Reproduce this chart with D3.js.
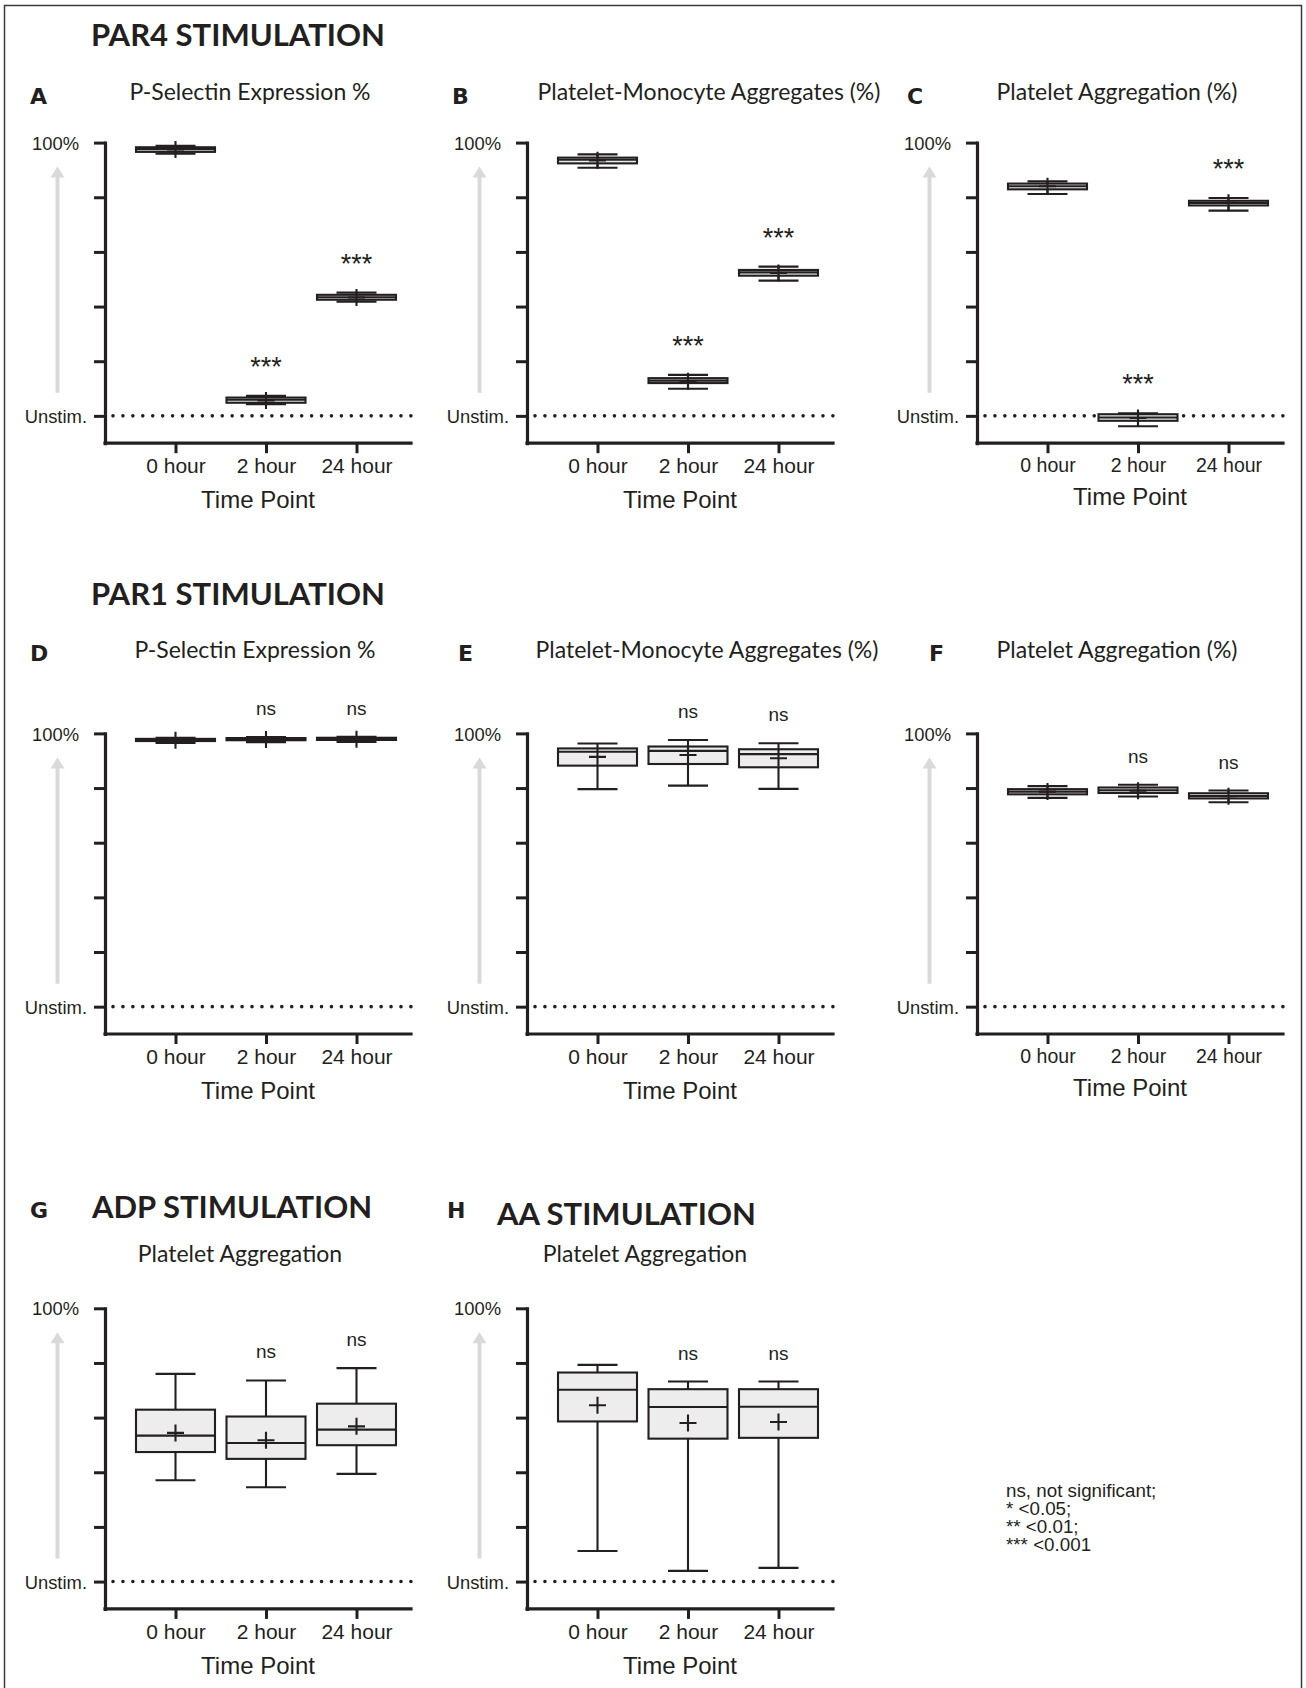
<!DOCTYPE html>
<html>
<head>
<meta charset="utf-8">
<script src="https://cdn.jsdelivr.net/npm/d3@7"></script>
<style>
  body { margin: 0; background: #fff; }
  svg text { fill: #231f20; }
</style>
</head>
<body>
<div id="chart"></div>
<script>
const timePoints = ["0 hour", "2 hour", "24 hour"];

// box stats for each time point: [min, q1, median, q3, max, mean]
// (0 = unstimulated level, 100 = 100%)
const par4PSelectin = [[95.9, 96.6, 97.6, 98.3, 98.8, 97.5], [4.3, 4.8, 5.9, 6.7, 7.3, 5.6], [41.8, 42.5, 43.4, 44.3, 45.1, 43.3]];
const par4Monocyte  = [[90.8, 92.4, 93.7, 94.5, 95.7, 93.5], [9.9, 12.0, 12.9, 13.8, 15.0, 12.7], [49.5, 51.3, 52.5, 53.4, 54.6, 52.3]];
const par4Aggreg    = [[81.2, 82.9, 84.0, 85.0, 85.8, 84.0], [-3.8, -1.8, -0.6, 0.6, 0.9, -0.8], [75.1, 77.0, 77.9, 78.7, 79.7, 78.0]];
const par1PSelectin = [[96.5, 97.2, 97.6, 98.0, 98.4, 97.5], [96.8, 97.5, 97.9, 98.3, 98.7, 97.8], [96.9, 97.6, 98.0, 98.4, 98.8, 97.9]];
const par1Monocyte  = [[79.6, 88.2, 93.3, 94.5, 96.3, 91.4], [80.9, 88.8, 93.6, 95.2, 97.6, 92.1], [79.7, 87.6, 92.4, 94.2, 96.4, 90.9]];
const par1Aggreg    = [[76.4, 77.7, 78.7, 79.6, 80.7, 78.7], [76.9, 78.2, 79.2, 80.2, 81.2, 79.0], [74.8, 76.2, 77.1, 78.1, 79.1, 77.0]];
const adpAggreg     = [[37.1, 47.4, 53.4, 62.9, 76.0, 54.4], [34.5, 44.9, 50.7, 60.4, 73.6, 51.7], [39.4, 49.9, 55.6, 65.1, 78.1, 56.8]];
const aaAggreg      = [[11.2, 58.6, 70.2, 76.5, 79.3, 64.5], [3.9, 52.3, 63.9, 70.4, 73.2, 58.0], [5.0, 52.6, 64.0, 70.4, 73.2, 58.4]];

// significance vs 0 hour
const sigPar4 = ["", "***", "***"];
const sigNs   = ["", "ns", "ns"];

const sectionTitles = ["PAR4 STIMULATION", "PAR1 STIMULATION", "ADP STIMULATION", "AA STIMULATION"];
const footnote = ["ns, not significant;", "* <0.05;", "** <0.01;", "*** <0.001"];

const W = 1306, H = 1688;
const calibri = "Lato, 'Open Sans', sans-serif";
const arial = "'Liberation Sans', Arial, sans-serif";

const colX = [105, 527, 977];
const rowTop = [142.6, 733.4, 1308.3];
const titleBase = [100, 658, 1261.7];
const letterBase = [104, 660.5, 1218];

const panels = [
  { letter: "A", title: "P-Selectin Expression %", stats: par4PSelectin, sig: sigPar4, col: 0, row: 0, titleX: 250, letterX: 30 },
  { letter: "B", title: "Platelet-Monocyte Aggregates (%)", stats: par4Monocyte, sig: sigPar4, col: 1, row: 0, titleX: 709, letterX: 452 },
  { letter: "C", title: "Platelet Aggregation (%)", stats: par4Aggreg, sig: sigPar4, col: 2, row: 0, titleX: 1117, letterX: 907 },
  { letter: "D", title: "P-Selectin Expression %", stats: par1PSelectin, sig: sigNs, col: 0, row: 1, titleX: 255, letterX: 30 },
  { letter: "E", title: "Platelet-Monocyte Aggregates (%)", stats: par1Monocyte, sig: sigNs, col: 1, row: 1, titleX: 707, letterX: 458 },
  { letter: "F", title: "Platelet Aggregation (%)", stats: par1Aggreg, sig: sigNs, col: 2, row: 1, titleX: 1117, letterX: 929 },
  { letter: "G", title: "Platelet Aggregation", stats: adpAggreg, sig: sigNs, col: 0, row: 2, titleX: 240, letterX: 30 },
  { letter: "H", title: "Platelet Aggregation", stats: aaAggreg, sig: sigNs, col: 1, row: 2, titleX: 645, letterX: 447 }
];

const svg = d3.select('#chart').append('svg')
    .attr('width', W)
    .attr('height', H);

// outer frame (open at the bottom)
svg.append('path')
    .attr('d', `M4.5,${H}V5.5H1301.5V${H}`)
    .attr('fill', 'none')
    .attr('stroke', '#3a3a3a')
    .attr('stroke-width', 1.5);

// section headings
const headPos = [[91, 46], [91, 605], [92, 1218], [497, 1225]];
svg.selectAll('text.section')
  .data(sectionTitles)
  .join('text')
    .attr('class', 'section')
    .attr('x', (d, i) => headPos[i][0])
    .attr('y', (d, i) => headPos[i][1])
    .style('font', `700 31px ${calibri}`)
    .text(d => d);

panels.forEach(drawPanel);

// footnote
svg.append('text')
    .attr('x', 1006)
    .attr('y', 1497)
    .style('font', `18.8px ${arial}`)
  .selectAll('tspan')
  .data(footnote)
  .join('tspan')
    .attr('x', 1006)
    .attr('dy', (d, i) => i ? 18 : 0)
    .text(d => d);

function drawPanel(p) {
  const ax = colX[p.col];
  const top = rowTop[p.row];
  const small = p.col === 2;

  // x axis sits at -10 on the same scale
  const y = d3.scaleLinear().domain([-10, 100]).range([top + 300.6, top]);
  const x = d3.scalePoint().domain(timePoints).range([ax + 70.5, ax + 251.5]);

  const g = svg.append('g').style('color', '#231f20');

  // panel letter + title
  g.append('text')
      .attr('x', p.letterX)
      .attr('y', letterBase[p.row])
      .style('font', `700 22px 'DejaVu Sans', ${arial}`)
      .text(p.letter);
  g.append('text')
      .attr('x', p.titleX)
      .attr('y', titleBase[p.row])
      .attr('text-anchor', 'middle')
      .style('font', `23px ${calibri}`)
      .text(p.title);

  // grey "increasing" arrow
  const arrowX = ax - 47.5;
  g.append('line')
      .attr('x1', arrowX).attr('x2', arrowX)
      .attr('y1', y(0) - 23).attr('y2', y(100) + 32)
      .attr('stroke', '#d9d9d9')
      .attr('stroke-width', 4);
  g.append('path')
      .attr('d', `M${arrowX},${y(100) + 24}l7,11h-14z`)
      .attr('fill', '#d9d9d9');

  // unstimulated reference line
  g.append('line')
      .attr('x1', ax + 8).attr('x2', ax + 306)
      .attr('y1', y(0)).attr('y2', y(0))
      .attr('stroke', '#231f20')
      .attr('stroke-width', 3.6)
      .attr('stroke-linecap', 'round')
      .attr('stroke-dasharray', '0,9.93');

  // y axis
  const yAx = g.append('g')
      .attr('transform', `translate(${ax},0)`)
      .call(d3.axisLeft(y)
        .tickValues([0, 20, 40, 60, 80, 100])
        .tickSize(11)
        .tickSizeOuter(0)
        .tickFormat(d => d === 100 ? '100%' : d === 0 ? 'Unstim.' : ''));
  yAx.select('.domain')
      .attr('stroke-width', 3.2)
      .attr('stroke-linecap', 'square');
  yAx.selectAll('.tick line').attr('stroke-width', 3);
  yAx.selectAll('.tick text')
      .attr('x', d => d === 100 ? -26 : -18)
      .attr('dy', '0.36em')
      .style('font', `18.4px ${arial}`);

  // x axis
  const xAx = g.append('g')
      .attr('transform', `translate(0,${y(-10)})`)
      .call(d3.axisBottom(x).tickSize(10).tickSizeOuter(0));
  xAx.select('.domain')
      .attr('d', `M${ax},0H${ax + 306}`)
      .attr('stroke-width', 3.2)
      .attr('stroke-linecap', 'square');
  xAx.selectAll('.tick line').attr('stroke-width', 3);
  xAx.selectAll('.tick text')
      .attr('y', small ? 28.5 : 30)
      .attr('dy', null)
      .style('font', `${small ? 19.5 : 21}px ${arial}`);

  g.append('text')
      .attr('x', ax + 153)
      .attr('y', y(-10) + (small ? 62 : 65))
      .attr('text-anchor', 'middle')
      .style('font', `24px ${arial}`)
      .text('Time Point');

  // box plots
  const bw = 79, capW = 40, half = 8.5;
  const rows = p.stats.map((s, i) => ({ t: timePoints[i], s: s, sig: p.sig[i] }));
  const box = g.selectAll('g.box')
    .data(rows)
    .join('g')
      .attr('class', 'box')
      .attr('transform', d => `translate(${x(d.t)},0)`);

  const line = sel => sel.attr('fill', 'none').attr('stroke', '#231f20').attr('stroke-width', 2.1);

  box.append('path')
      .attr('d', d => `M0,${y(d.s[4])}V${y(d.s[3])}M0,${y(d.s[1])}V${y(d.s[0])}` +
                      `M${-capW / 2},${y(d.s[4])}h${capW}M${-capW / 2},${y(d.s[0])}h${capW}`)
      .call(line);
  box.append('rect')
      .attr('x', -bw / 2)
      .attr('width', bw)
      .attr('y', d => y(d.s[3]))
      .attr('height', d => y(d.s[1]) - y(d.s[3]))
      .call(line)
      .attr('fill', '#ededed');
  box.append('path')
      .attr('d', d => `M${-bw / 2},${y(d.s[2])}h${bw}`)
      .call(line);
  box.append('path')
      .attr('d', d => `M${-half},${y(d.s[5])}h${half * 2}M0,${y(d.s[5]) - half}v${half * 2}`)
      .call(line);

  box.append('text')
      .attr('y', d => y(d.s[4]) - (d.sig === 'ns' ? 22 : 20))
      .attr('text-anchor', 'middle')
      .style('font', d => d.sig === 'ns' ? `19px ${arial}` : `27px ${arial}`)
      .text(d => d.sig);
}
</script>
</body>
</html>
